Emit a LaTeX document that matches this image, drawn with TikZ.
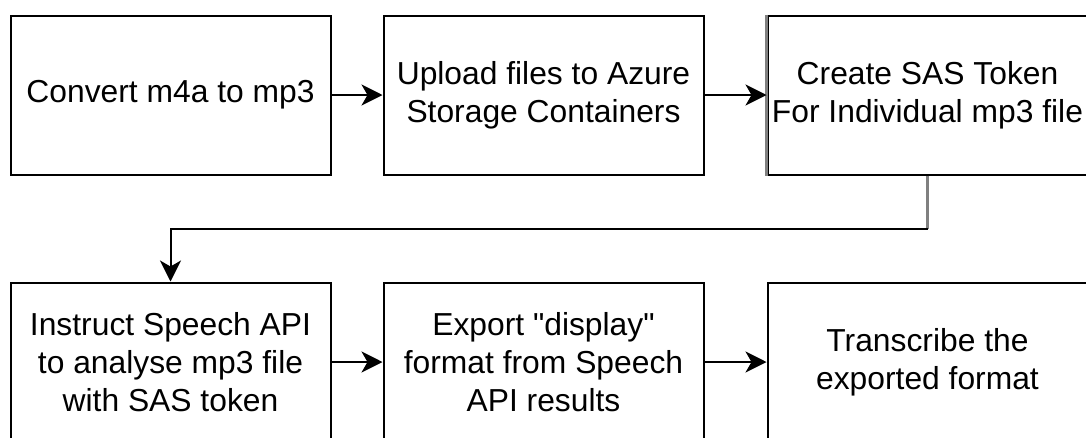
\documentclass[tikz,border=0pt]{standalone}
\usepackage{fontspec}
\setmainfont{Liberation Sans}[Ligatures=TeXOff]
\usetikzlibrary{arrows.meta}

\begin{document}
\begin{tikzpicture}[x=1pt,y=-1pt,node distance=373pt,
	step node/.style = {rectangle,draw,line width=2pt,fill=white,inner sep=0pt,
		minimum width=320pt,minimum height=159pt,align=center,
		font=\fontsize{31.8}{38}\selectfont},
	flow/.style = {line width=2pt,-{Stealth[length=21pt,width=21pt,inset=6pt]}}]
	
	\useasboundingbox (0,0) rectangle (1086,437);
	\clip (0,0) rectangle (1086,437);
	
	\node[step node] at (170.5,95) (conv) {Convert m4a to mp3};
	\node[step node] [right of = conv] (upload) {Upload files to Azure\\Storage Containers};
	\node[step node] [right of = upload, xshift=11pt] (sas) {Create SAS Token\\For Individual mp3 file};
	\node[step node] [below of = conv, node distance=267pt] (instr) {Instruct Speech API\\to analyse mp3 file\\with SAS token};
	\node[step node] [right of = instr] (export) {Export "display"\\format from Speech\\API results};
	\node[step node] [right of = export, xshift=11pt] (transcribe) {Transcribe the\\exported format};
	
	% left edge of the SAS box comes out grey
	\draw[gray, line width=2.5pt] (sas.north west) -- (sas.south west);
	
	\draw[flow] (conv) -- (upload);
	\draw[flow] (upload) -- (sas);
	\draw[gray, line width=2.5pt] (sas.south) -- ++(0,53) coordinate (bend);
	\draw[flow] (bend) -| (instr.north);
	\draw[flow] (instr) -- (export);
	\draw[flow] (export) -- (transcribe);
	
\end{tikzpicture}
\end{document}
